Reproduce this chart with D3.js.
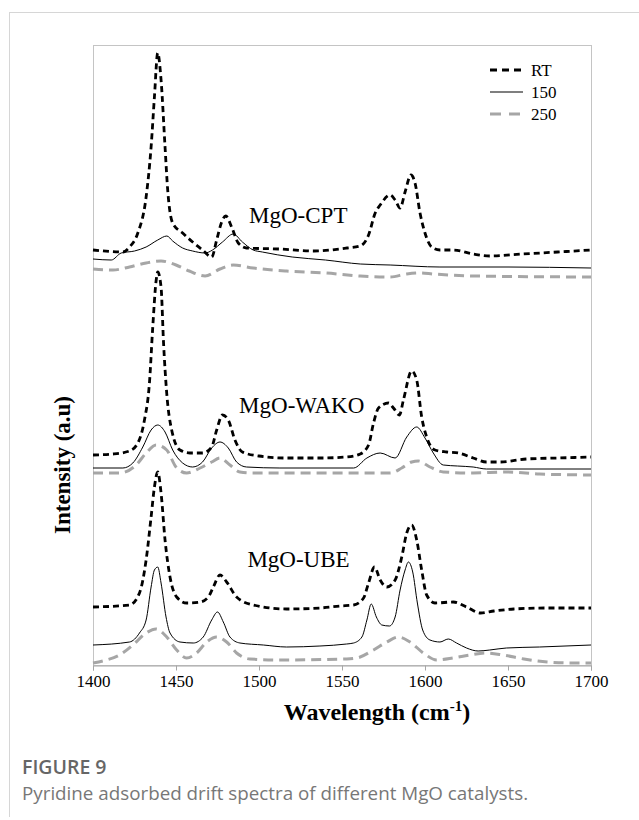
<!DOCTYPE html>
<html>
<head>
<meta charset="utf-8">
<script src="https://cdnjs.cloudflare.com/ajax/libs/d3/7.8.5/d3.min.js"></script>
<style>
  body { margin: 0; background: #fff; }
  svg { display: block; }
</style>
</head>
<body>
<div id="chart"></div>
<script>
// wavenumber (cm-1) and intensity (a.u.), offsets included
var cptRT = [[1400,4.15],[1418,4.13],[1422,4.18],[1427,4.32],[1432,4.68],[1435,5.18],[1437,5.68],[1439,6.12],[1441,5.85],[1443.4,5.18],[1445,4.75],[1448,4.42],[1454,4.32],[1460,4.23],[1466,4.15],[1471.5,4.08],[1474.5,4.25],[1477.5,4.43],[1480,4.49],[1483.5,4.38],[1487.5,4.22],[1492.5,4.17],[1512,4.16],[1533,4.14],[1553,4.17],[1561,4.19],[1566,4.30],[1570,4.52],[1573,4.60],[1579,4.70],[1582,4.65],[1585,4.57],[1588,4.73],[1591.5,4.90],[1594,4.82],[1597,4.52],[1600,4.32],[1604,4.18],[1609,4.15],[1617,4.15],[1629,4.11],[1639,4.09],[1659,4.11],[1680,4.13],[1700,4.15]];
var cpt150 = [[1400,4.06],[1411,4.05],[1417,4.12],[1425,4.14],[1432,4.18],[1439,4.25],[1444.5,4.29],[1448,4.24],[1454,4.17],[1460,4.14],[1467.5,4.12],[1472,4.15],[1478,4.23],[1484.5,4.31],[1490,4.23],[1496.5,4.15],[1502,4.13],[1520,4.08],[1540,4.05],[1561,4.01],[1579,4.00],[1609,3.98],[1650,3.98],[1700,3.97]];
var cpt250 = [[1400,3.96],[1412,3.95],[1422,3.98],[1432,4.02],[1441,4.04],[1450,4.00],[1458,3.94],[1467.5,3.89],[1476.5,3.96],[1484.5,4.00],[1496.5,3.97],[1516.5,3.94],[1540.5,3.92],[1561,3.89],[1579,3.88],[1589,3.91],[1597,3.92],[1605,3.91],[1629,3.89],[1700,3.88]];

var wakoRT = [[1400,2.10],[1412,2.11],[1422,2.14],[1427,2.22],[1431,2.45],[1434,2.82],[1436,3.38],[1438,3.84],[1439,3.93],[1441,3.78],[1442.5,3.22],[1444.4,2.72],[1447.4,2.35],[1452.4,2.15],[1458.4,2.12],[1466,2.12],[1471.5,2.18],[1474.5,2.35],[1478,2.50],[1481.5,2.45],[1485.5,2.25],[1490,2.13],[1500,2.09],[1516.5,2.07],[1536.7,2.07],[1552.8,2.08],[1561,2.11],[1566,2.20],[1569,2.42],[1572,2.57],[1578,2.62],[1581,2.57],[1584.6,2.50],[1587,2.65],[1592,2.94],[1595,2.85],[1598,2.48],[1601,2.28],[1606,2.15],[1613,2.13],[1620,2.12],[1629,2.07],[1637,2.03],[1645,2.03],[1661,2.06],[1680,2.07],[1700,2.08]];
var wako150 = [[1400,1.97],[1418,1.97],[1424,2.02],[1430,2.18],[1435,2.35],[1439,2.40],[1443.4,2.33],[1448,2.15],[1454,2.02],[1460,1.98],[1466,2.03],[1471.5,2.17],[1476.5,2.23],[1481.5,2.17],[1486.5,2.03],[1492.5,1.98],[1512.6,1.97],[1557,1.97],[1565,2.07],[1573,2.12],[1582,2.07],[1589,2.28],[1595,2.38],[1600,2.27],[1605,2.12],[1611,2.00],[1619.5,1.99],[1629,1.98],[1637,1.96],[1700,1.96]];
var wako250 = [[1400,1.92],[1416,1.92],[1426,2.00],[1432,2.12],[1438,2.20],[1444.4,2.15],[1450,1.98],[1456.4,1.92],[1464.5,1.97],[1471.5,2.03],[1476.5,2.07],[1482.5,2.00],[1488.5,1.93],[1496.6,1.92],[1561,1.92],[1579,1.92],[1586,1.97],[1592,2.03],[1596,2.04],[1603,1.98],[1611,1.93],[1629,1.92],[1649,1.93],[1669,1.91],[1700,1.90]];

var ubeRT = [[1400,0.58],[1422,0.60],[1428,0.72],[1432,1.05],[1435,1.48],[1437,1.78],[1439,1.93],[1441,1.72],[1443.4,1.25],[1446.4,0.88],[1450.4,0.68],[1456.4,0.62],[1464.5,0.63],[1469.5,0.68],[1472.5,0.78],[1476.5,0.90],[1480.5,0.83],[1486.5,0.68],[1496.6,0.60],[1516.6,0.56],[1536.7,0.57],[1549,0.59],[1557,0.60],[1563,0.67],[1566,0.82],[1569.6,0.98],[1573,0.85],[1577,0.78],[1582,0.85],[1586,1.08],[1589,1.32],[1592,1.40],[1595,1.25],[1598,0.95],[1601,0.70],[1606,0.62],[1617,0.63],[1625,0.58],[1633.5,0.52],[1641.6,0.54],[1653.6,0.56],[1673.7,0.57],[1700,0.57]];
var ube150 = [[1400,0.20],[1422,0.23],[1428,0.32],[1432,0.45],[1435,0.78],[1437,0.95],[1439,0.98],[1441,0.82],[1444,0.48],[1446.4,0.32],[1452.4,0.23],[1460.4,0.22],[1466.4,0.28],[1471.5,0.45],[1475,0.53],[1478.5,0.43],[1482.5,0.28],[1488.5,0.22],[1502.6,0.20],[1516.6,0.18],[1536.7,0.19],[1552.8,0.21],[1557,0.22],[1562,0.28],[1565,0.45],[1567.6,0.61],[1570.7,0.48],[1574,0.40],[1578.6,0.39],[1582,0.48],[1585,0.75],[1588,0.95],[1590,1.03],[1592.6,0.93],[1595.4,0.62],[1598.6,0.35],[1603,0.25],[1609,0.23],[1614,0.26],[1619,0.22],[1625,0.17],[1632,0.14],[1639,0.15],[1649,0.17],[1669,0.18],[1700,0.20]];
var ube250 = [[1400,0.02],[1408,0.05],[1416,0.10],[1424,0.20],[1432,0.32],[1438,0.36],[1444.4,0.28],[1450.4,0.15],[1456.4,0.07],[1462.4,0.12],[1468.5,0.23],[1474.5,0.28],[1480.5,0.23],[1486.5,0.12],[1494.5,0.06],[1512.6,0.05],[1552.8,0.06],[1559,0.07],[1569,0.15],[1577,0.23],[1584,0.28],[1591,0.23],[1599,0.12],[1607,0.05],[1617,0.07],[1627,0.10],[1637,0.12],[1647,0.10],[1659.6,0.06],[1673.7,0.03],[1690,0.02],[1700,0.02]];

var xTicks = [1400, 1450, 1500, 1550, 1600, 1650, 1700];
var legendLabels = ["RT", "150", "250"];
var sampleNames = ["MgO-CPT", "MgO-WAKO", "MgO-UBE"];

// Layout
var svgWidth = 639, svgHeight = 820;
var plot = {left: 93, right: 591, top: 45, bottom: 665};
var serif = "'Liberation Serif', 'Times New Roman', serif";

var svg = d3.select("#chart")
    .append("svg")
    .attr("width", svgWidth)
    .attr("height", svgHeight);

// card borders
svg.append("line")
    .attr("x1", 9).attr("x2", svgWidth).attr("y1", 12.5).attr("y2", 12.5)
    .attr("stroke", "#d6d6d6");
svg.append("line")
    .attr("x1", 9.5).attr("x2", 9.5).attr("y1", 12).attr("y2", 817)
    .attr("stroke", "#d6d6d6");

var x = d3.scaleLinear()
    .domain([1400, 1700])
    .range([plot.left, plot.right]);
var y = d3.scaleLinear()
    .domain([0, 6.2])
    .range([plot.bottom, plot.top]);

// plot frame
svg.append("rect")
    .attr("x", plot.left + 0.5)
    .attr("y", plot.top + 0.5)
    .attr("width", plot.right - plot.left)
    .attr("height", plot.bottom - plot.top)
    .attr("fill", "none")
    .attr("stroke", "#c4c4c4");

// x axis
var xAxis = svg.append("g")
    .attr("transform", "translate(0," + (plot.bottom + 0.5) + ")")
    .call(d3.axisBottom(x).tickValues(xTicks).tickSize(5).tickPadding(4).tickFormat(d3.format("d")));
xAxis.select(".domain").attr("stroke", "#a6a6a6");
xAxis.selectAll(".tick line").attr("stroke", "#a6a6a6");
xAxis.selectAll(".tick text")
    .attr("font-family", serif)
    .attr("font-size", 17)
    .attr("fill", "#000");

var line = d3.line()
    .x(d => x(d[0]))
    .y(d => y(d[1]))
    .curve(d3.curveMonotoneX);

var styles = {
    "RT":  {stroke: "#000", width: 2.8, dash: "6,4"},
    "150": {stroke: "#000", width: 1, dash: null},
    "250": {stroke: "#a6a6a6", width: 3, dash: "10,6"}
};

var series = [
    {data: cptRT, type: "RT"}, {data: cpt150, type: "150"}, {data: cpt250, type: "250"},
    {data: wakoRT, type: "RT"}, {data: wako150, type: "150"}, {data: wako250, type: "250"},
    {data: ubeRT, type: "RT"}, {data: ube150, type: "150"}, {data: ube250, type: "250"}
];

// draw grey first so black sits on top
var order = ["250", "150", "RT"];
order.forEach(function(t) {
    series.filter(s => s.type == t).forEach(function(s) {
        svg.append("path")
            .attr("d", line(s.data))
            .attr("fill", "none")
            .attr("stroke", styles[t].stroke)
            .attr("stroke-width", styles[t].width)
            .attr("stroke-dasharray", styles[t].dash);
    });
});

// sample labels
var labelPos = [[1494, 4.42], [1488, 2.52], [1493, 0.98]];
sampleNames.forEach(function(name, i) {
    svg.append("text")
        .attr("x", x(labelPos[i][0]))
        .attr("y", y(labelPos[i][1]))
        .attr("font-family", serif)
        .attr("font-size", 23)
        .text(name);
});

// legend
legendLabels.forEach(function(lab, i) {
    var ly = 70 + i * 22;
    svg.append("line")
        .attr("x1", 490).attr("x2", 523)
        .attr("y1", ly).attr("y2", ly)
        .attr("stroke", styles[lab].stroke)
        .attr("stroke-width", lab == "150" ? 1.2 : styles[lab].width)
        .attr("stroke-dasharray", lab == "RT" ? "7,5" : (lab == "250" ? "11,8" : null));
    svg.append("text")
        .attr("x", 531)
        .attr("y", ly + 6)
        .attr("font-family", serif)
        .attr("font-size", 17)
        .text(lab);
});

// axis titles
var xTitle = svg.append("text")
    .attr("x", 377)
    .attr("y", 720)
    .attr("text-anchor", "middle")
    .attr("font-family", serif)
    .attr("font-size", 24)
    .attr("font-weight", "bold");
xTitle.append("tspan").text("Wavelength (cm");
xTitle.append("tspan").attr("font-size", 15).attr("dy", -9).text("-1");
xTitle.append("tspan").attr("dy", 9).text(")");

svg.append("text")
    .attr("transform", "translate(70,465) rotate(-90)")
    .attr("text-anchor", "middle")
    .attr("font-family", serif)
    .attr("font-size", 23)
    .attr("font-weight", "bold")
    .text("Intensity (a.u)");

// caption
svg.append("text")
    .attr("x", 22)
    .attr("y", 774)
    .attr("font-family", "'Open Sans', sans-serif")
    .attr("font-size", 19.5)
    .attr("font-weight", 600)
    .attr("fill", "#666")
    .text("FIGURE 9");
svg.append("text")
    .attr("x", 22)
    .attr("y", 800)
    .attr("font-family", "'Open Sans', sans-serif")
    .attr("font-size", 18.8)
    .attr("fill", "#777")
    .text("Pyridine adsorbed drift spectra of different MgO catalysts.");
</script>
</body>
</html>
